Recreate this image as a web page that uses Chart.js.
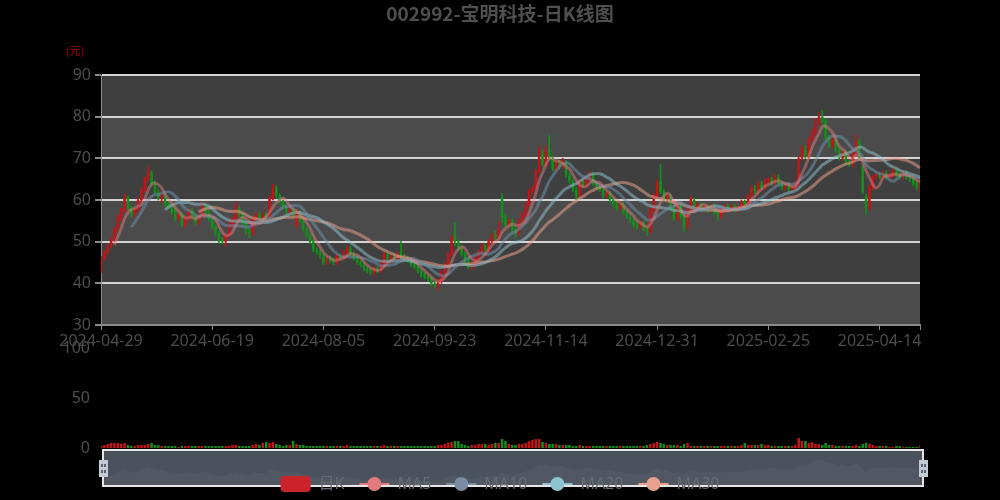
<!DOCTYPE html>
<html>
<head>
<meta charset="utf-8">
<script src="https://cdn.jsdelivr.net/npm/chart.js@4.4.1/dist/chart.umd.min.js"></script>
<style>
html, body { margin: 0; padding: 0; background: #000; }
#wrap { position: relative; width: 1000px; height: 500px; }
#wrap canvas { position: absolute; left: 0; top: 0; }
</style>
</head>
<body>
<div id="wrap">
  <canvas id="kChart" width="1000" height="500"></canvas>
  <canvas id="volChart" width="1000" height="500"></canvas>
</div>
<script>
var chartTitle = '002992-宝明科技-日K线图';
var legendNames = ['日K', 'MA5', 'MA10', 'MA20', 'MA30'];

var dates = [
 '2024-04-29','2024-04-30',
 '2024-05-06','2024-05-07','2024-05-08','2024-05-09','2024-05-10','2024-05-13','2024-05-14','2024-05-15','2024-05-16','2024-05-17',
 '2024-05-20','2024-05-21','2024-05-22','2024-05-23','2024-05-24','2024-05-27','2024-05-28','2024-05-29','2024-05-30','2024-05-31',
 '2024-06-03','2024-06-04','2024-06-05','2024-06-06','2024-06-07','2024-06-11','2024-06-12','2024-06-13','2024-06-14','2024-06-17',
 '2024-06-18','2024-06-19','2024-06-20','2024-06-21','2024-06-24','2024-06-25','2024-06-26','2024-06-27','2024-06-28',
 '2024-07-01','2024-07-02','2024-07-03','2024-07-04','2024-07-05','2024-07-08','2024-07-09','2024-07-10','2024-07-11','2024-07-12',
 '2024-07-15','2024-07-16','2024-07-17','2024-07-18','2024-07-19','2024-07-22','2024-07-23','2024-07-24','2024-07-25','2024-07-26',
 '2024-07-29','2024-07-30','2024-07-31',
 '2024-08-01','2024-08-02','2024-08-05','2024-08-06','2024-08-07','2024-08-08','2024-08-09','2024-08-12','2024-08-13','2024-08-14',
 '2024-08-15','2024-08-16','2024-08-19','2024-08-20','2024-08-21','2024-08-22','2024-08-23','2024-08-26','2024-08-27','2024-08-28',
 '2024-08-29','2024-08-30',
 '2024-09-02','2024-09-03','2024-09-04','2024-09-05','2024-09-06','2024-09-09','2024-09-10','2024-09-11','2024-09-12','2024-09-13',
 '2024-09-18','2024-09-19','2024-09-20','2024-09-23','2024-09-24','2024-09-25','2024-09-26','2024-09-27','2024-09-30',
 '2024-10-08','2024-10-09','2024-10-10','2024-10-11','2024-10-14','2024-10-15','2024-10-16','2024-10-17','2024-10-18','2024-10-21',
 '2024-10-22','2024-10-23','2024-10-24','2024-10-25','2024-10-28','2024-10-29','2024-10-30','2024-10-31',
 '2024-11-01','2024-11-04','2024-11-05','2024-11-06','2024-11-07','2024-11-08','2024-11-11','2024-11-12','2024-11-13','2024-11-14',
 '2024-11-15','2024-11-18','2024-11-19','2024-11-20','2024-11-21','2024-11-22','2024-11-25','2024-11-26','2024-11-27','2024-11-28',
 '2024-11-29',
 '2024-12-02','2024-12-03','2024-12-04','2024-12-05','2024-12-06','2024-12-09','2024-12-10','2024-12-11','2024-12-12','2024-12-13',
 '2024-12-16','2024-12-17','2024-12-18','2024-12-19','2024-12-20','2024-12-23','2024-12-24','2024-12-25','2024-12-26','2024-12-27',
 '2024-12-30','2024-12-31',
 '2025-01-02','2025-01-03','2025-01-06','2025-01-07','2025-01-08','2025-01-09','2025-01-10','2025-01-13','2025-01-14','2025-01-15',
 '2025-01-16','2025-01-17','2025-01-20','2025-01-21','2025-01-22','2025-01-23','2025-01-24','2025-01-27',
 '2025-02-05','2025-02-06','2025-02-07','2025-02-10','2025-02-11','2025-02-12','2025-02-13','2025-02-14','2025-02-17','2025-02-18',
 '2025-02-19','2025-02-20','2025-02-21','2025-02-24','2025-02-25','2025-02-26','2025-02-27','2025-02-28',
 '2025-03-03','2025-03-04','2025-03-05','2025-03-06','2025-03-07','2025-03-10','2025-03-11','2025-03-12','2025-03-13','2025-03-14',
 '2025-03-17','2025-03-18','2025-03-19','2025-03-20','2025-03-21','2025-03-24','2025-03-25','2025-03-26','2025-03-27','2025-03-28',
 '2025-03-31',
 '2025-04-01','2025-04-02','2025-04-03','2025-04-07','2025-04-08','2025-04-09','2025-04-10','2025-04-11','2025-04-14','2025-04-15',
 '2025-04-16','2025-04-17','2025-04-18','2025-04-21','2025-04-22','2025-04-23','2025-04-24','2025-04-25','2025-04-28','2025-04-29',
 '2025-04-30'
];

var openPrices = [
 43,46,47.5,49,50.5,53,56,57.5,60.5,58,
 56.5,57.5,60,62.5,65,66.5,64,62,60.5,61,
 59,58.5,57.5,55.5,56.5,54,55.5,57.5,56,54.5,
 56,58.5,57,55.5,53.5,52,50.5,50,51.5,54,
 55.5,58,56.5,54.5,52.5,52,55.5,56.5,55.5,56.5,
 56,60.5,63,61,59.5,58.5,57,57.5,54,57,
 55,53,51.5,50,48,47.5,46.5,45,46,45.5,
 45,46.5,46,47.5,48.5,47,46,45,44.5,43.5,
 43,42.5,43.5,43,44.5,47,46,46.5,46,47.5,
 46.5,46,45.5,44.5,44,43,42,41.5,41,40,
 39.5,40.5,42.5,44.5,47,52,50,48.5,47,45.5,
 44,44.5,46,47.5,49,48,50,51.5,51,60.5,
 56,54,55,53,52,55,56.5,59,62,63,
 67,71,68.5,72,70,67.5,69,68,69,66,
 64.5,62.5,61,64.5,63.5,65,66,64,63,62.5,
 61,61.5,60,59,58,59,57,56,55,54,
 53.5,54.5,53,52.5,57.5,61,64.5,62,60,61,
 58,55.5,58.5,56,53.5,57.5,60,58.5,59,58,
 58.5,57.5,58.5,57,56,57.5,58.5,58,58.5,57.5,
 58,59.5,59,61,63,62,64,63,64.5,65,
 64,65.5,64,63,63.5,62.5,63,64,70,72,
 70.5,74.5,76,78.5,80,79,75,73,74.5,72,
 70,71.5,69,68.5,71,74,68,61,58,63,
 65.5,66,65.5,66.5,65.5,66,67,66,65.5,66.5,
 65.5,65,64,63
];

var closePrices = [
 46,47.5,49,50.5,53,56,57.5,60.5,58,56.5,
 57.5,60,62.5,65,67,64,62,60.5,61,59,
 58.5,57,55.5,56.5,54,55.5,57.5,56,54.5,56,
 58.5,57,55.5,53.5,52,50.5,50,51.5,54,55.5,
 58.5,56.5,54.5,52.5,52,55.5,56.5,55.5,56.5,56,
 60.5,63,61,59.5,58.5,57,57.5,56.5,57,55,
 53,51.5,50,48,47.5,46.5,45,46,45.5,45,
 46.5,46,47.5,48.5,47,46,45,44.5,43.5,43,
 42.5,43.5,43,44.5,47,46,46.5,46,47,46.5,
 46,45.5,44.5,44,43,42,41.5,41,40,39.5,
 40.5,42.5,44.5,47,51,50,48.5,47,45.5,44,
 44.5,46,47.5,49,48,50,51.5,51,53,56,
 54,55,53,52,55,56.5,59,62,63,67,
 72,68.5,72,70,67.5,69,68,69.5,66,64.5,
 62.5,61,64.5,63.5,65,66,64,63,62.5,61,
 61.5,60,59,58,59,57,56,55,54,53.5,
 54.5,53,52.5,57.5,61,64,62,60,61,58,
 55.5,58.5,56,53.5,57.5,60.5,58.5,59,58,58.5,
 57.5,58.5,57,56,57.5,58.5,58,58.5,57.5,58,
 59.5,59,61,63,62,64,63,64.5,65,64,
 65.5,64,63,63.5,62.5,63,64,70,72.5,70.5,
 74.5,76,78.5,80,79,75,73,74.5,72,70,
 71.5,69,68.5,71,74,70,62,58,63,65.5,
 66,65.5,66.5,65.5,66,67,66,65.5,66.5,65.5,
 65,64,63,64.5
];

var lowPrices = [
 42.5,45.5,47,48.5,50,52.5,55,57,57.5,56,
 56,57,59.5,62,64.5,63.5,61.5,60,59.5,58.5,
 58,56.5,55,55,53.5,53.5,55,55.5,54,54,
 55.5,56.5,55,53,51.5,49.5,49.5,49,51,53.5,
 55,56,54,52,51,51.5,55,55,55,55.5,
 55.5,60,60.5,59,58,56.5,56.5,56,53.5,54.5,
 52.5,51,49.5,47.5,47,46,44.5,44.5,45,44.5,
 44.5,45.5,45.5,47,46.5,45.5,44.5,44,43,42.5,
 42,42,42.5,42.5,44,45.5,45.5,45.5,45.5,46,
 45.5,45,44,43.5,42.5,41.5,41,40.5,39.5,39,
 38.4,40,42,44,46.5,49,48,46.5,45,43.5,
 43.2,44,45.5,47,47.5,47.5,49.5,50.5,50.5,54.5,
 53.5,53.5,52.5,51,51.5,54.5,56,58.5,61.5,62.5,
 66.5,68,68,69.5,67,67,67.5,67.5,65.5,64,
 62,60,60.5,63,63,64.5,63.5,62.5,62,60.5,
 60.5,59.5,58.5,57.5,57.5,56.5,55.5,54.5,53.5,53,
 53,52.5,51.5,52,57,60.5,61.5,59.5,59.5,57.5,
 55,55,55.5,52.3,53,57,58,58,57.5,57.5,
 57,57,56.5,55,55.5,57,57.5,57.5,57,57,
 57.5,58.5,58.5,60.5,61.5,61.5,62.5,62.5,64,63.5,
 63.5,63.5,62.5,62.5,62,62,62.5,63.5,69.5,70,
 70,74,75.5,78,78.5,74.5,72.5,72.5,71.5,69.5,
 69.5,68.5,68,68,70.5,69.5,61.5,56.4,57.5,62.5,
 65,65,65,65,65,65.5,65.5,65,65,65,
 64.5,63.5,62.5,62
];

var highPrices = [
 46.5,48,49.5,51,53.5,56.5,58,61.5,61,58.5,
 58,60.5,63,65.5,68,67,64.5,62.5,61.5,61.5,
 59.5,59,58,57,57,56,58,58,56.5,56.5,
 59.5,59,57.5,56,54,52.5,51,52,54.5,56,
 59.5,58.5,57,55,53,56,57,57,57,57,
 61,63.8,63.5,61.5,60,59,58,58,57.5,57.5,
 55.5,53.5,52,50.5,48.5,48,47,46.5,46.5,46,
 47,47,48,49,49,47.5,46.5,45.5,45,44,
 43.5,44,44,45,47.5,47.5,47,47,47.5,50,
 47,46.5,46,45,44.5,43.5,42.5,42,41.5,40.5,
 41,43,45,47.5,51.5,54.4,50.5,49,47.5,46,
 45,46.5,48,49.5,49.5,50.5,52,52.5,55,61.5,
 56.5,55.5,55.5,53.5,55.5,57,59.5,62.5,63.5,67.5,
 72.8,72,73,75.5,70.5,69.5,69.5,70,69.5,66.5,
 65,63,65,65,65.5,66.8,66.5,64.5,63.5,63,
 62,62,60.5,59.5,59.5,59.5,57.5,56.5,55.5,54.5,
 55,55,53.5,58,61.5,64.8,68.5,62.5,61.5,61.5,
 58.5,59,59,56.5,58,61,60.5,59.5,59.5,59,
 59,59,59,57.5,58,59,59,59,59,58.5,
 60,60,61.5,63.5,63.5,64.5,64.5,65,65.5,65.5,
 66,66,64.5,64,64,63.5,64.5,70.5,73,73,
 75,77,79.5,81,81.5,79.5,75.5,75,75,72.5,
 72,72,69.5,71.5,75.6,74.5,68.5,61.5,63.5,66,
 66.5,66.5,67,67,66.5,67.5,67.5,66.5,67,67,
 66,65.5,64.5,65
];

var volumes = [
 2,3,4,5,5,5,4,5,3,2,
 2,3,3,3,4,5,3,3,2,2,
 2,2,2,1,2,2,2,2,2,2,
 2,2,2,2,2,2,2,2,2,3,
 3,2,2,2,2,3,4,3,5,6,
 5,6,4,3,2,3,3,7,4,3,
 3,2,2,2,2,2,2,2,2,2,
 2,2,2,3,2,2,2,2,2,2,
 2,2,2,2,3,2,2,2,2,2,
 2,2,2,2,2,2,2,2,2,2,
 3,3,4,5,6,7,7,4,3,2,
 3,3,4,4,4,3,4,5,5,9,
 7,4,3,3,4,4,5,7,8,9,
 9,6,5,4,4,4,3,3,3,3,
 2,2,3,2,2,2,2,2,2,2,
 2,2,2,2,2,2,2,2,2,2,
 2,2,3,4,5,6,5,4,3,3,
 3,3,2,4,5,2,2,2,2,2,
 2,2,2,2,2,2,2,2,2,2,
 3,5,3,3,3,3,4,3,3,2,
 2,2,2,2,2,2,3,10,7,7,
 5,6,4,4,3,5,3,3,2,2,
 2,2,2,2,3,2,4,5,4,3,
 2,2,2,2,1,1,2,2,1,1,
 1,1,1,2
];

var upColor = '#c41418';
var downColor = '#11911a';
var maColors = ['rgba(232,132,132,0.45)', 'rgba(112,142,168,0.55)', 'rgba(150,200,216,0.5)', 'rgba(232,160,138,0.55)'];
var legendColors = ['#cc2229', '#e07a7e', '#7a8ca3', '#8fc3d1', '#e8a090'];

Chart.defaults.font.family = "'Noto Sans', 'Noto Sans CJK SC', sans-serif";

function isUp(i) { return closePrices[i] >= openPrices[i]; }
function candleColor(ctx) { return isUp(ctx.dataIndex) ? upColor : downColor; }

function calcMA(n) {
    var result = [];
    for (var i = 0; i < closePrices.length; i++) {
        if (i < n - 1) { result.push(null); continue; }
        var sum = 0;
        for (var j = 0; j < n; j++) sum += closePrices[i - j];
        result.push(+(sum / n).toFixed(2));
    }
    return result;
}

var bodies = dates.map(function (d, i) { return [openPrices[i], closePrices[i]]; });
var wicks = dates.map(function (d, i) { return [lowPrices[i], highPrices[i]]; });

function maDataset(n, k) {
    return { type: 'line', label: 'MA' + n, data: calcMA(n), borderColor: maColors[k],
        borderWidth: 3, pointRadius: 0, tension: 0.3, order: 0 };
}

// background bands, title and unit label
var decorPlugin = {
    id: 'decor',
    beforeDraw: function (chart) {
        var a = chart.chartArea, y = chart.scales.y, ctx = chart.ctx;
        ctx.save();
        for (var v = 30; v < 90; v += 10) {
            var top = y.getPixelForValue(v + 10), bottom = y.getPixelForValue(v);
            ctx.fillStyle = (v / 10) % 2 === 0 ? '#3f3f3f' : '#4b4b4b';
            ctx.fillRect(a.left, top, a.right - a.left, bottom - top);
        }
        ctx.restore();
    },
    afterDraw: function (chart) {
        var ctx = chart.ctx;
        ctx.save();
        ctx.fillStyle = '#4f4f4f';
        ctx.font = "bold 19px 'Noto Sans CJK SC', 'Noto Sans', sans-serif";
        ctx.textAlign = 'center';
        ctx.textBaseline = 'middle';
        ctx.fillText(chartTitle, chart.width / 2, 14);
        ctx.fillStyle = '#b00000';
        ctx.font = "11px 'Noto Sans CJK SC', sans-serif";
        ctx.fillText('(元)', 75, 51);
        ctx.restore();
    }
};

new Chart('kChart', {
    type: 'bar',
    data: {
        labels: dates,
        datasets: [
            maDataset(5, 0), maDataset(10, 1), maDataset(20, 2), maDataset(30, 3),
            { label: '日K', data: bodies, backgroundColor: candleColor, grouped: false,
              barPercentage: 0.75, categoryPercentage: 1, borderWidth: 0, order: 1 },
            { label: 'wick', data: wicks, backgroundColor: candleColor, grouped: false,
              barThickness: 1, borderWidth: 0, order: 2 }
        ]
    },
    options: {
        responsive: false,
        animation: false,
        layout: { padding: { left: 0, right: 80, top: 75, bottom: 0 } },
        plugins: { legend: { display: false }, tooltip: { enabled: false } },
        scales: {
            x: {
                offset: false,
                grid: { offset: false, drawOnChartArea: false, tickLength: 5,
                    tickColor: function (c) { return (c.index % 33 === 0 || c.index === dates.length - 1) ? '#8a8a8a' : 'rgba(0,0,0,0)'; } },
                border: { color: '#8a8a8a', width: 2 },
                ticks: { autoSkip: false, maxRotation: 0, minRotation: 0, padding: 2, color: '#4d4d4d', font: { size: 16 },
                    callback: function (v, i) { return i % 33 === 0 ? this.getLabelForValue(v) : ''; } },
                afterFit: function (s) { s.height = 175; }
            },
            y: {
                min: 30, max: 90,
                ticks: { stepSize: 10, color: '#4d4d4d', font: { size: 16 }, padding: 4 },
                grid: { color: function (c) { return c.tick && c.tick.value === 30 ? 'rgba(0,0,0,0)' : '#d4d4d4'; },
                    lineWidth: 2, tickLength: 6, tickColor: '#8a8a8a' },
                border: { color: '#8a8a8a' },
                afterFit: function (s) { s.width = 101; }
            }
        }
    },
    plugins: [decorPlugin]
});

// data zoom slider look-alike and legend under the volume bars
var sliderPlugin = {
    id: 'slider',
    afterDraw: function (chart) {
        var a = chart.chartArea, xs = chart.scales.x, ctx = chart.ctx;
        var left = a.left + 2, right = a.right + 3, top = a.bottom + 2, bottom = a.bottom + 38;
        ctx.save();
        ctx.fillStyle = 'rgba(78,86,98,0.95)';
        ctx.fillRect(left, top, right - left, bottom - top);

        // faint data shadow
        var lo = Math.min.apply(null, closePrices), hi = Math.max.apply(null, closePrices);
        ctx.beginPath();
        ctx.moveTo(xs.getPixelForValue(0), bottom);
        closePrices.forEach(function (c, i) {
            ctx.lineTo(xs.getPixelForValue(i), bottom - 4 - (c - lo) / (hi - lo) * (bottom - top - 14));
        });
        ctx.lineTo(xs.getPixelForValue(closePrices.length - 1), bottom);
        ctx.closePath();
        ctx.fillStyle = 'rgba(255,255,255,0.04)';
        ctx.fill();

        ctx.strokeStyle = '#e6e6e6';
        ctx.lineWidth = 2;
        ctx.strokeRect(left, top, right - left, bottom - top);

        [left, right].forEach(function (hx) {
            ctx.fillStyle = '#c3cad6';
            ctx.fillRect(hx - 4, top + 10, 9, 17);
            ctx.fillStyle = '#5b6370';
            ctx.fillRect(hx - 2, top + 14, 2, 3);
            ctx.fillRect(hx + 1, top + 14, 2, 3);
            ctx.fillRect(hx - 2, top + 20, 2, 3);
            ctx.fillRect(hx + 1, top + 20, 2, 3);
        });

        // legend
        ctx.font = "16px 'Noto Sans', 'Noto Sans CJK SC', sans-serif";
        ctx.textBaseline = 'middle';
        var iconW = 30, textGap = 8, itemGap = 15, ly = 484;
        var total = 0;
        legendNames.forEach(function (n, k) {
            total += iconW + textGap + ctx.measureText(n).width + (k < legendNames.length - 1 ? itemGap : 0);
        });
        var x = chart.width / 2 - total / 2;
        legendNames.forEach(function (n, k) {
            if (k === 0) {
                ctx.fillStyle = legendColors[0];
                ctx.beginPath();
                ctx.roundRect(x, ly - 8, iconW, 16, 4);
                ctx.fill();
            } else {
                ctx.strokeStyle = legendColors[k];
                ctx.lineWidth = 2;
                ctx.beginPath();
                ctx.moveTo(x, ly); ctx.lineTo(x + iconW, ly);
                ctx.stroke();
                ctx.fillStyle = legendColors[k];
                ctx.beginPath();
                ctx.arc(x + iconW / 2, ly, 7, 0, Math.PI * 2);
                ctx.fill();
            }
            x += iconW + textGap;
            ctx.fillStyle = '#666b74';
            ctx.textAlign = 'left';
            ctx.fillText(n, x, ly);
            x += ctx.measureText(n).width + itemGap;
        });
        ctx.restore();
    }
};

new Chart('volChart', {
    type: 'bar',
    data: {
        labels: dates,
        datasets: [{ label: 'VOL', data: volumes, backgroundColor: candleColor,
            barPercentage: 0.75, categoryPercentage: 1, borderWidth: 0 }]
    },
    options: {
        responsive: false,
        animation: false,
        layout: { padding: { left: 0, right: 80, top: 348, bottom: 52 } },
        plugins: { legend: { display: false }, tooltip: { enabled: false } },
        scales: {
            x: { display: false, offset: false, grid: { offset: false } },
            y: {
                min: 0, max: 100,
                ticks: { stepSize: 50, color: '#4d4d4d', font: { size: 16 }, padding: 11 },
                grid: { display: false, drawTicks: false, tickLength: 0 },
                border: { display: false },
                afterFit: function (s) { s.width = 101; }
            }
        }
    },
    plugins: [sliderPlugin]
});
</script>
</body>
</html>
